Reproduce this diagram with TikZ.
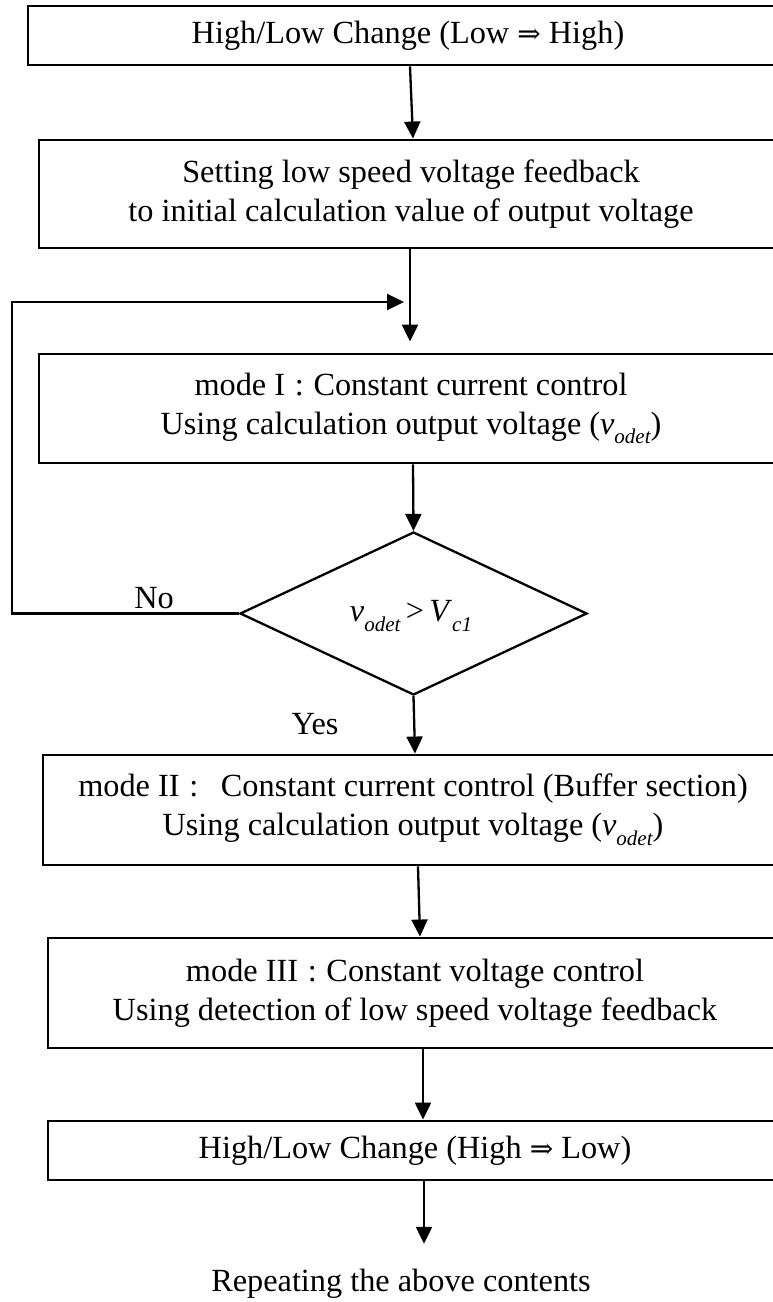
\documentclass[tikz,border=0pt]{standalone}
\usepackage{fontspec}
\setmainfont{Liberation Serif}
\newfontfamily\arrowfont{DejaVu Serif}
\usetikzlibrary{arrows.meta,shapes.geometric}
% italic subscript, lowered
\newcommand\subit[1]{\raisebox{-0.3em}{\fontsize{21}{21}\selectfont\itshape #1}}
\newcommand\vodet{\textit{v}\subit{odet}}
\newcommand\dblarrow{{\arrowfont\fontsize{28}{28}\selectfont ⇒}}
\begin{document}
\begin{tikzpicture}[x=1pt,y=-1pt,
  every node/.style={font=\fontsize{32.3}{39}\selectfont, text=black},
  stepbox/.style={draw, line width=2.9pt, align=center, inner sep=0pt},
  flow/.style={line width=2.3pt, -{Triangle[length=17pt,width=16pt]}},
  ]
\clip (0,0) rectangle (773,1302);
\fill[white] (0,0) rectangle (773,1302);

% process boxes (they run off the right-hand edge)
\node[stepbox, minimum width=760pt, minimum height=59pt] (b1) at (408,35.5)
  {High/Low Change (Low \dblarrow{} High)};
\node[stepbox, minimum width=744pt, minimum height=108pt] (b2) at (411,194)
  {Setting low speed voltage feedback\\to initial calculation value of output voltage};
\node[stepbox, minimum width=744pt, minimum height=109pt] (b3) at (411,408.5)
  {mode I\hspace{0.3em}:\hspace{0.3em}Constant current control\\Using calculation output voltage (\vodet)};
\node[stepbox, minimum width=740pt, minimum height=110pt] (b4) at (413,810)
  {mode II\hspace{0.3em}:\hspace{0.7em}Constant current control (Buffer section)\\Using calculation output voltage (\vodet)};
\node[stepbox, minimum width=734pt, minimum height=110pt] (b5) at (415,993)
  {mode III\hspace{0.3em}:\hspace{0.3em}Constant voltage control\\Using detection of low speed voltage feedback};
\node[stepbox, minimum width=734pt, minimum height=59pt] (b6) at (415,1150.5)
  {High/Low Change (High \dblarrow{} Low)};

% decision
\node[diamond, draw, line width=2.3pt, minimum width=347pt, minimum height=163pt, inner sep=0pt] (d) at (413.5,613.5) {};
\node (dt) at (411,616) {\vodet\,>\,\textit{V}\subit{c1}};
\node (no) at (154,598) {No};
\node (yes) at (315,724) {Yes};

% final note
\node (rep) at (401,1284) {Repeating the above contents};

% connectors
\coordinate (loopT) at (12,302);
\coordinate (join) at (404,302);
\coordinate (endx) at (424,0);
\draw[flow] ([xshift=2pt]b1.south) -- ([xshift=2pt]b2.north);
\draw[flow, shorten >=11pt] ([xshift=-1pt]b2.south) -- ([xshift=-1pt]b3.north);
\draw[flow] ([xshift=2pt]b3.south) -- (d.north);
\draw[flow] (d.south) -- ([xshift=2pt]b4.north);
\draw[flow] ([xshift=5pt]b4.south) -- ([xshift=5pt]b5.north);
\draw[flow] ([xshift=8pt]b5.south) -- ([xshift=8pt]b6.north);
\draw[flow, shorten >=22pt] (b6.south -| endx) -- (rep.north -| endx);
\draw[flow] (d.west) -- (d.west -| loopT) -- (loopT) -- (join);
\end{tikzpicture}
\end{document}
